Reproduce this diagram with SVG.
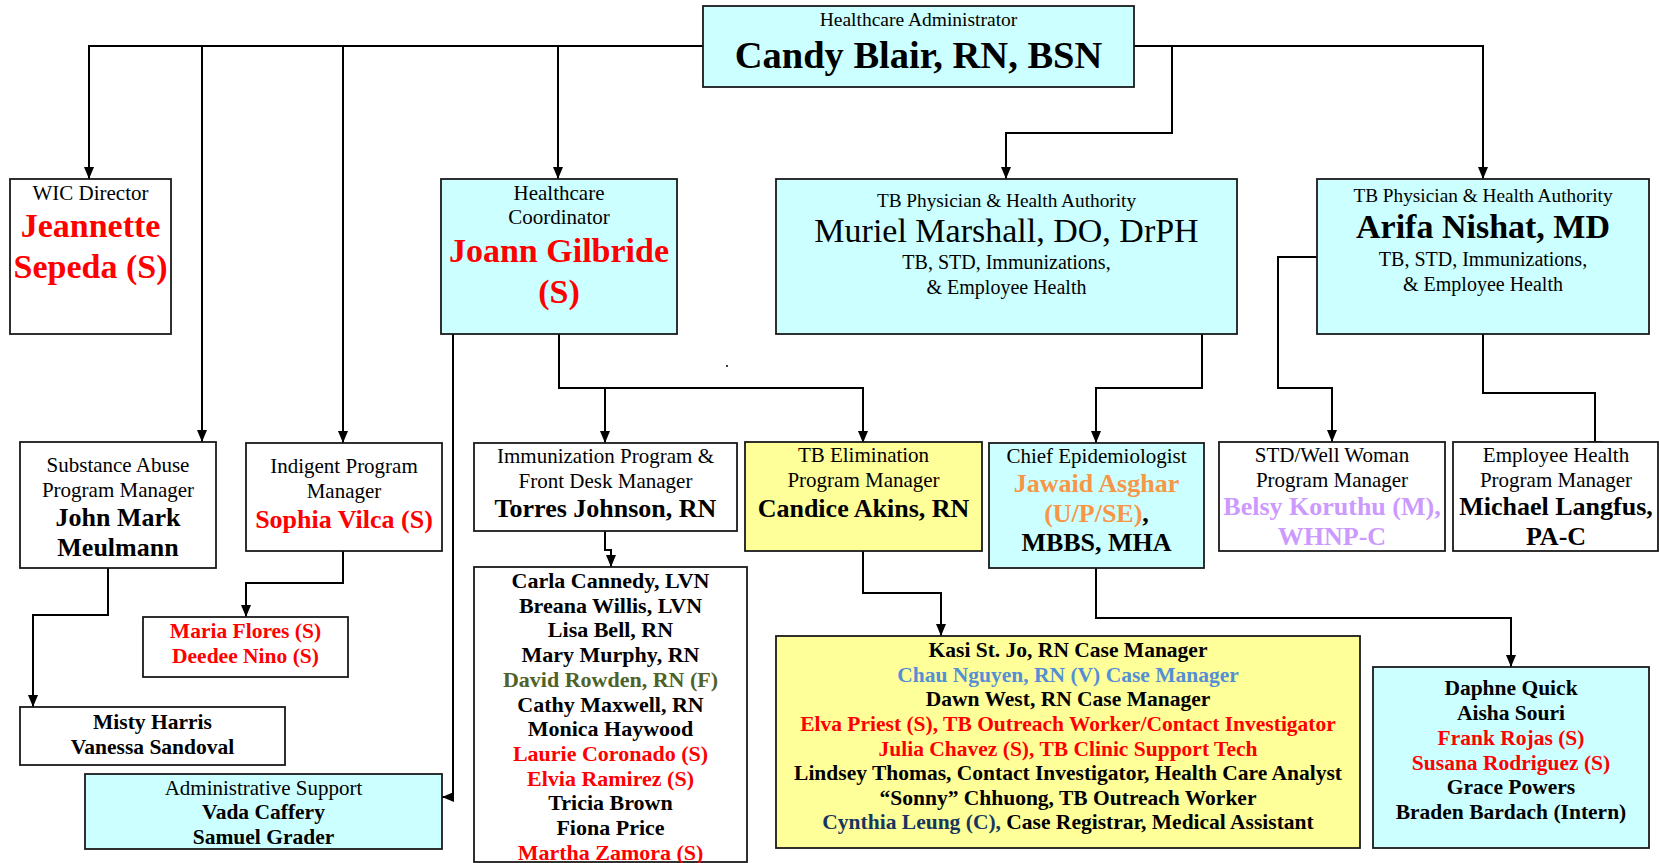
<svg xmlns="http://www.w3.org/2000/svg" width="1659" height="863" viewBox="0 0 1659 863">
<style>
text{font-family:"Liberation Serif","Times New Roman",serif;text-anchor:middle;fill:#000}
.box{stroke:#1a1a1a;stroke-width:1.8;fill:#fff}
.cy{fill:#ccffff}
.ye{fill:#ffff99}
.lbl{font-size:21px}
.big{font-size:34px;font-weight:bold}
.bigr{font-size:34px}
.nm{font-size:26px;font-weight:bold}
.ls{font-size:21.5px;font-weight:bold}
.red{fill:#ff0000}
.pur{fill:#cc99ff}
.org{fill:#f79646}
.olv{fill:#4f6228}
.lbl2{fill:#558ed5}
.nav{fill:#17365d}
.con path{fill:none;stroke:#000;stroke-width:2}
</style>
<defs>
<marker id="ah" markerUnits="userSpaceOnUse" markerWidth="12" markerHeight="10" refX="12" refY="5" orient="auto">
<path d="M0,0 L12,5 L0,10 z" fill="#000"/>
</marker>
</defs>

<g id="connectors" class="con">
<path d="M703,46 H89 V179" marker-end="url(#ah)"/>
<path d="M202,46 V442" marker-end="url(#ah)"/>
<path d="M343,46 V443" marker-end="url(#ah)"/>
<path d="M558,46 V179" marker-end="url(#ah)"/>
<path d="M1134,46 H1483 V179" marker-end="url(#ah)"/>
<path d="M1172,46 V133 H1006 V179" marker-end="url(#ah)"/>
<path d="M559,334 V388 H863 V443" marker-end="url(#ah)"/>
<path d="M605,388 V443" marker-end="url(#ah)"/>
<path d="M453,334 V797 H442" marker-end="url(#ah)"/>
<path d="M605,531 V550 H611 V567" marker-end="url(#ah)"/>
<path d="M108,568 V615 H33 V707" marker-end="url(#ah)"/>
<path d="M343,551 V583 H246 V617" marker-end="url(#ah)"/>
<path d="M863,551 V593 H941 V636" marker-end="url(#ah)"/>
<path d="M1202,334 V388 H1096 V443" marker-end="url(#ah)"/>
<path d="M1096,568 V618 H1511 V667" marker-end="url(#ah)"/>
<path d="M1317,257 H1278 V388 H1332 V442" marker-end="url(#ah)"/>
<path d="M1483,334 V393 H1595 V442"/>
<path d="M1588,442 H1602"/>
</g>
<circle cx="727" cy="366" r="1" fill="#000"/>

<g id="n-candy">
<rect class="box cy" x="703" y="6" width="431" height="81"/>
<text class="lbl" x="918.5" y="26" style="font-size:19.5px">Healthcare Administrator</text>
<text class="big" x="918.5" y="68" style="font-size:38.5px">Candy Blair, RN, BSN</text>
</g>

<g id="n-wic">
<rect class="box" x="10" y="179" width="161" height="155"/>
<text class="lbl" x="90.5" y="200">WIC Director</text>
<text class="big red" x="90.5" y="237">Jeannette</text>
<text class="big red" x="90.5" y="278">Sepeda (S)</text>
</g>

<g id="n-joann">
<rect class="box cy" x="441" y="179" width="236" height="155"/>
<text class="lbl" x="559" y="200">Healthcare</text>
<text class="lbl" x="559" y="224">Coordinator</text>
<text class="big red" x="559" y="262">Joann Gilbride</text>
<text class="big red" x="559" y="303">(S)</text>
</g>

<g id="n-muriel">
<rect class="box cy" x="776" y="179" width="461" height="155"/>
<text class="lbl" x="1006.5" y="207" style="font-size:19.3px">TB Physician &amp; Health Authority</text>
<text class="bigr" x="1006.5" y="242">Muriel Marshall, DO, DrPH</text>
<text class="lbl" x="1006.5" y="269" style="font-size:20px">TB, STD, Immunizations,</text>
<text class="lbl" x="1006.5" y="294" style="font-size:20px">&amp; Employee Health</text>
</g>

<g id="n-arifa">
<rect class="box cy" x="1317" y="179" width="332" height="155"/>
<text class="lbl" x="1483" y="202" style="font-size:19.3px">TB Physician &amp; Health Authority</text>
<text class="big" x="1483" y="238">Arifa Nishat, MD</text>
<text class="lbl" x="1483" y="266" style="font-size:20px">TB, STD, Immunizations,</text>
<text class="lbl" x="1483" y="291" style="font-size:20px">&amp; Employee Health</text>
</g>

<g id="n-substance">
<rect class="box" x="20" y="442" width="196" height="126"/>
<text class="lbl" x="118" y="472">Substance Abuse</text>
<text class="lbl" x="118" y="497">Program Manager</text>
<text class="nm" x="118" y="526">John Mark</text>
<text class="nm" x="118" y="556">Meulmann</text>
</g>

<g id="n-indigent">
<rect class="box" x="246" y="443" width="196" height="108"/>
<text class="lbl" x="344" y="473">Indigent Program</text>
<text class="lbl" x="344" y="498">Manager</text>
<text class="nm red" x="344" y="528">Sophia Vilca (S)</text>
</g>

<g id="n-immunization">
<rect class="box" x="474" y="443" width="263" height="88"/>
<text class="lbl" x="605.5" y="463">Immunization Program &amp;</text>
<text class="lbl" x="605.5" y="488">Front Desk Manager</text>
<text class="nm" x="605.5" y="517">Torres Johnson, RN</text>
</g>

<g id="n-tbelim">
<rect class="box ye" x="745" y="442" width="237" height="109"/>
<text class="lbl" x="863.5" y="462">TB Elimination</text>
<text class="lbl" x="863.5" y="487">Program Manager</text>
<text class="nm" x="863.5" y="517">Candice Akins, RN</text>
</g>

<g id="n-epi">
<rect class="box cy" x="989" y="443" width="215" height="125"/>
<text class="lbl" x="1096.5" y="463">Chief Epidemiologist</text>
<text class="nm org" x="1096.5" y="492">Jawaid Asghar</text>
<text class="nm" x="1096.5" y="522"><tspan class="org">(U/P/SE)</tspan>,</text>
<text class="nm" x="1096.5" y="551">MBBS, MHA</text>
</g>

<g id="n-std">
<rect class="box" x="1219" y="442" width="226" height="109"/>
<text class="lbl" x="1332" y="462">STD/Well Woman</text>
<text class="lbl" x="1332" y="487">Program Manager</text>
<text class="nm pur" x="1332" y="515">Belsy Koruthu (M),</text>
<text class="nm pur" x="1332" y="545">WHNP-C</text>
</g>

<g id="n-employee">
<rect class="box" x="1453" y="442" width="205" height="109"/>
<text class="lbl" x="1556" y="462">Employee Health</text>
<text class="lbl" x="1556" y="487">Program Manager</text>
<text class="nm" x="1556" y="515">Michael Langfus,</text>
<text class="nm" x="1556" y="545">PA-C</text>
</g>

<g id="n-maria">
<rect class="box" x="143" y="617" width="205" height="60"/>
<text class="ls red" x="245.5" y="638">Maria Flores (S)</text>
<text class="ls red" x="245.5" y="663">Deedee Nino (S)</text>
</g>

<g id="n-misty">
<rect class="box" x="20" y="707" width="265" height="58"/>
<text class="ls" x="152.5" y="729">Misty Harris</text>
<text class="ls" x="152.5" y="754">Vanessa Sandoval</text>
</g>

<g id="n-admin">
<rect class="box cy" x="85" y="774" width="357" height="75"/>
<text class="lbl" x="263.5" y="795">Administrative Support</text>
<text class="ls" x="263.5" y="819">Vada Caffery</text>
<text class="ls" x="263.5" y="844">Samuel Grader</text>
</g>

<g id="n-staff">
<rect class="box" x="474" y="567" width="273" height="295"/>
<text class="ls" x="610.5" y="588" style="font-size:22px">Carla Cannedy, LVN</text>
<text class="ls" x="610.5" y="613" style="font-size:22px">Breana Willis, LVN</text>
<text class="ls" x="610.5" y="637" style="font-size:22px">Lisa Bell, RN</text>
<text class="ls" x="610.5" y="662" style="font-size:22px">Mary Murphy, RN</text>
<text class="ls olv" x="610.5" y="687" style="font-size:22px">David Rowden, RN (F)</text>
<text class="ls" x="610.5" y="712" style="font-size:22px">Cathy Maxwell, RN</text>
<text class="ls" x="610.5" y="736" style="font-size:22px">Monica Haywood</text>
<text class="ls red" x="610.5" y="761" style="font-size:22px">Laurie Coronado (S)</text>
<text class="ls red" x="610.5" y="786" style="font-size:22px">Elvia Ramirez (S)</text>
<text class="ls" x="610.5" y="810" style="font-size:22px">Tricia Brown</text>
<text class="ls" x="610.5" y="835" style="font-size:22px">Fiona Price</text>
<text class="ls red" x="610.5" y="860" style="font-size:22px">Martha Zamora (S)</text>
</g>

<g id="n-tbteam">
<rect class="box ye" x="776" y="636" width="584" height="212"/>
<text class="ls" x="1068" y="657">Kasi St. Jo, RN Case Manager</text>
<text class="ls lbl2" x="1068" y="682">Chau Nguyen, RN (V) Case Manager</text>
<text class="ls" x="1068" y="706">Dawn West, RN Case Manager</text>
<text class="ls red" x="1068" y="731">Elva Priest (S), TB Outreach Worker/Contact Investigator</text>
<text class="ls red" x="1068" y="756">Julia Chavez (S), TB Clinic Support Tech</text>
<text class="ls" x="1068" y="780">Lindsey Thomas, Contact Investigator, Health Care Analyst</text>
<text class="ls" x="1068" y="805">“Sonny” Chhuong, TB Outreach Worker</text>
<text class="ls" x="1068" y="829"><tspan class="nav">Cynthia Leung (C),</tspan> Case Registrar, Medical Assistant</text>
</g>

<g id="n-daphne">
<rect class="box cy" x="1373" y="667" width="276" height="181"/>
<text class="ls" x="1511" y="695">Daphne Quick</text>
<text class="ls" x="1511" y="720">Aisha Souri</text>
<text class="ls red" x="1511" y="745">Frank Rojas (S)</text>
<text class="ls red" x="1511" y="770">Susana Rodriguez (S)</text>
<text class="ls" x="1511" y="794">Grace Powers</text>
<text class="ls" x="1511" y="819">Braden Bardach (Intern)</text>
</g>
</svg>
